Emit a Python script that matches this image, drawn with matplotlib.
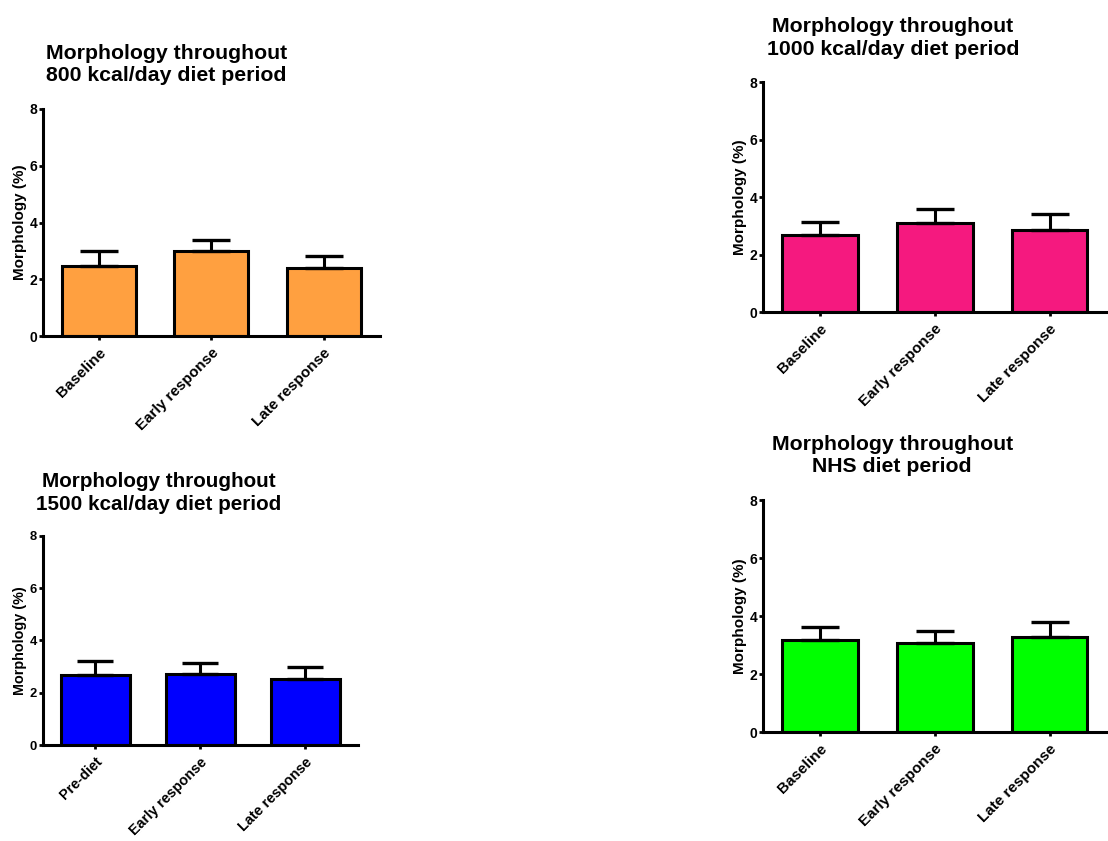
import matplotlib
matplotlib.use("Agg")
import matplotlib.pyplot as plt

plt.rcParams["font.family"] = ["Liberation Sans", "DejaVu Sans"]
plt.rcParams["font.weight"] = "bold"

# ── Data ─────────────────────────────────────────────────────────────────────
LABELS_STD  = ["Baseline", "Early response", "Late response"]
LABELS_1500 = ["Pre-diet", "Early response", "Late response"]

mean_800  = [2.48, 2.99, 2.41]
err_800   = [0.52, 0.40, 0.40]
mean_1000 = [2.69, 3.11, 2.85]
err_1000  = [0.46, 0.48, 0.56]
mean_1500 = [2.66, 2.71, 2.51]
err_1500  = [0.56, 0.43, 0.46]
mean_nhs  = [3.17, 3.08, 3.29]
err_nhs   = [0.47, 0.41, 0.52]

TITLES = ["Morphology throughout\n800 kcal/day diet period",
          "Morphology throughout\n1000 kcal/day diet period",
          "Morphology throughout\n1500 kcal/day diet period",
          "Morphology throughout\nNHS diet period"]
COLORS = ["#FFA040", "#F5197F", "#0000FF", "#00FF00"]

W, H = 1108, 841
# axes boxes in pixels: left, right, top (y=8), bottom (y=0)
BOXES = [(42.7, 380, 109, 336),
         (762.7, 1107, 82.3, 312.3),
         (42.7, 358, 535.7, 745),
         (762.7, 1107, 500, 732.3)]
TITLE_X = [0.366, 0.378, 0.369, 0.376]
SCALE   = [1.0, 1.0, 0.94, 1.0]   # bottom-left panel is drawn slightly smaller

fig = plt.figure(figsize=(W / 100, H / 100), dpi=100)

panels = [(mean_800, err_800, LABELS_STD),
          (mean_1000, err_1000, LABELS_STD),
          (mean_1500, err_1500, LABELS_1500),
          (mean_nhs, err_nhs, LABELS_STD)]

for i, (means, errs, labels) in enumerate(panels):
    l, r, t, b = BOXES[i]
    s = SCALE[i]
    ax = fig.add_axes([l / W, (H - b) / H, (r - l) / W, (b - t) / H])
    x = list(range(len(means)))
    ax.bar(x, means, width=0.66, color=COLORS[i], edgecolor="black",
           linewidth=2.2, zorder=2)
    ax.errorbar(x, means, yerr=[[0] * len(errs), errs], fmt="none",
                ecolor="black", elinewidth=2.2, capsize=14 * s, capthick=2.4,
                zorder=3)
    ax.set_xlim(-0.5, 2.5)
    ax.set_ylim(0, 8)
    ax.set_yticks([0, 2, 4, 6, 8])
    ax.set_xticks(x)
    ax.set_xticklabels(labels, rotation=45, ha="right",
                       rotation_mode="anchor", fontsize=11 * s, fontweight="bold")
    ax.tick_params(axis="y", labelsize=10 * s, length=3, width=2, pad=1)
    ax.tick_params(axis="x", length=3, width=2, pad=4)
    for lab in ax.get_yticklabels():
        lab.set_fontweight("bold")
    ax.set_ylabel("Morphology (%)", fontsize=11 * s, fontweight="bold", labelpad=2)
    ax.spines[["top", "right"]].set_visible(False)
    ax.spines[["left", "bottom"]].set_linewidth(2.2)
    ax.annotate(TITLES[i], xy=(TITLE_X[i], 1), xycoords="axes fraction",
                xytext=(0, 17 * s), textcoords="offset points",
                ha="center", va="bottom", fontsize=15.3 * (0.5 + s / 2),
                fontweight="bold", linespacing=1.25)

plt.savefig("out.png", dpi=100, facecolor="white")
plt.close()
